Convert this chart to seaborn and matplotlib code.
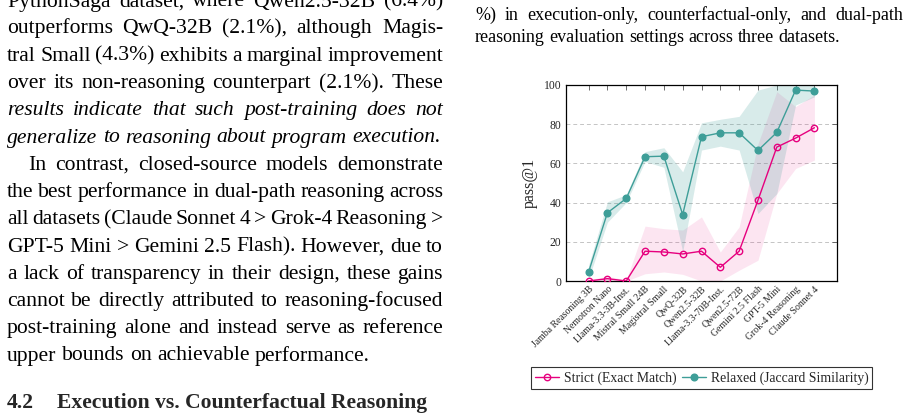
import matplotlib
matplotlib.use("Agg")
import matplotlib.pyplot as plt
import seaborn as sns
import numpy as np
import pandas as pd
from matplotlib.lines import Line2D

# ---------------- data ----------------
models = ["Jamba Reasoning 3B", "Nemotron Nano", "Llama-3.3-3B-Inst.", "Mistral Small 24B",
          "Magistral Small", "QwQ-32B", "Qwen2.5-32B", "Llama-3.3-70B-Inst.", "Qwen2.5-72B",
          "Gemini 2.5 Flash", "GPT-5 Mini", "Grok-4 Reasoning", "Claude Sonnet 4"]
strict = [0.0, 1.2, 0.0, 15.2, 14.8, 13.8, 15.2, 7.0, 15.2, 41.2, 68.3, 72.9, 78.2]
strict_lo = [0.0, 0.0, 0.0, 3.7, 4.6, 3.4, 0.0, 0.0, 5.5, 10.6, 44.6, 57.4, 61.7]
strict_hi = [0.5, 2.5, 0.5, 28.0, 26.7, 26.0, 32.7, 14.8, 27.6, 70.0, 96.6, 89.0, 95.0]
relaxed = [4.6, 34.8, 42.1, 63.4, 63.7, 33.9, 73.6, 75.6, 75.6, 66.6, 75.8, 97.4, 96.9]
relaxed_lo = [1.0, 30.0, 40.0, 61.0, 58.0, 15.0, 66.8, 68.8, 66.8, 34.4, 44.6, 89.8, 94.0]
relaxed_hi = [8.0, 40.4, 44.0, 66.0, 68.0, 55.7, 80.7, 82.5, 84.0, 97.4, 100.0, 100.0, 100.0]
yticks = [0, 20, 40, 60, 80, 100]
legend_labels = ["Strict (Exact Match)", "Relaxed (Jaccard Similarity)"]

left_lines = [
    ("PythonSaga dataset, where Qwen2.5-32B (6.4%)", [], True, 0),
    ("outperforms QwQ-32B (2.1%), although Magis-", [], True, 0),
    ("tral Small (4.3%) exhibits a marginal improvement", [], True, 0),
    ("over its non-reasoning counterpart (2.1%). These", [6], True, 0),
    ("results indicate that such post-training does not", "all", True, 0),
    ("generalize to reasoning about program execution.", "all", False, 0),
    ("In contrast, closed-source models demonstrate", [], True, 21),
    ("the best performance in dual-path reasoning across", [], True, 0),
    ("all datasets (Claude Sonnet 4 > Grok-4 Reasoning >", [], True, 0),
    ("GPT-5 Mini > Gemini 2.5 Flash). However, due to", [], True, 0),
    ("a lack of transparency in their design, these gains", [], True, 0),
    ("cannot be directly attributed to reasoning-focused", [], True, 0),
    ("post-training alone and instead serve as reference", [], True, 0),
    ("upper bounds on achievable performance.", [], False, 0),
]
left_baselines = [6.5, 33.5, 60.8, 88, 115.2, 142.5, 170, 197, 224.2, 251.5, 278.7, 306, 333.2, 360.5]
heading = ["4.2", "Execution vs. Counterfactual Reasoning"]
caption_lines = ["%) in execution-only, counterfactual-only, and dual-path",
                 "reasoning evaluation settings across three datasets."]
caption_baselines = [19.5, 42.0]

# ---------------- figure ----------------
W, H = 920, 413
sns.set_theme(style="white")
plt.rcParams["font.family"] = ["Liberation Serif", "DejaVu Serif"]
fig = plt.figure(figsize=(W / 100, H / 100), dpi=100)
renderer = fig.canvas.get_renderer()
SERIF = ["Liberation Serif", "DejaVu Serif"]


def put_line(words, y_base, x0, x1, justify, size, weight="normal"):
    texts, widths = [], []
    for w, st in words:
        t = fig.text(0, 0, w, fontsize=size, family=SERIF, style=st, weight=weight,
                     va="baseline", ha="left", color="black")
        texts.append(t)
        widths.append(t.get_window_extent(renderer).width)
    space = 0.25 * size * 100 / 72
    if justify and len(words) > 1:
        gap = (x1 - x0 - sum(widths)) / (len(words) - 1)
    else:
        gap = space
    x = x0
    for t, w in zip(texts, widths):
        t.set_position((x / W, 1 - y_base / H))
        x += w + gap


TXT = 15.6
for (line, ital, just, indent), yb in zip(left_lines, left_baselines):
    ws = line.split(" ")
    words = []
    for i, w in enumerate(ws):
        st = "italic" if (ital == "all" or (isinstance(ital, list) and i in ital)) else "normal"
        words.append((w, st))
    put_line(words, yb, 7 + indent, 443, just, TXT)

fig.text(7 / W, 1 - 408 / H, heading[0], fontsize=15.6, family=SERIF, weight="bold", va="baseline")
fig.text(57 / W, 1 - 408 / H, heading[1], fontsize=15.6, family=SERIF, weight="bold", va="baseline")

CAP = 13.0
put_line([(w, "normal") for w in caption_lines[0].split(" ")], caption_baselines[0], 475, 903, True, CAP)
put_line([(w, "normal") for w in caption_lines[1].split(" ")], caption_baselines[1], 475, 903, False, CAP)

# ---------------- chart ----------------
pink = "#E6007E"
teal = "#3E9E98"
ax = fig.add_axes([566 / W, 1 - 281 / H, (837 - 566) / W, (281 - 85) / H])
idx = np.arange(len(models))

ax.fill_between(idx, strict_lo, strict_hi, color=pink, alpha=0.10, linewidth=0)
ax.fill_between(idx, relaxed_lo, relaxed_hi, color=teal, alpha=0.20, linewidth=0)

df_s = pd.DataFrame({"x": idx, "y": strict})
df_r = pd.DataFrame({"x": idx, "y": relaxed})
sns.lineplot(data=df_s, x="x", y="y", ax=ax, color=pink, linewidth=1.0, marker="o",
             markersize=4.6, markerfacecolor="none", markeredgecolor=pink, markeredgewidth=1.0,
             zorder=4)
sns.lineplot(data=df_r, x="x", y="y", ax=ax, color=teal, linewidth=1.0, marker="o",
             markersize=4.8, markerfacecolor=teal, markeredgecolor=teal, markeredgewidth=1.0,
             zorder=4)

ax.set_xlim(-1.2, 13.2)
ax.set_ylim(0, 100)
ax.set_yticks(yticks)
ax.set_yticklabels([str(v) for v in yticks], fontsize=8.4, family=SERIF)
ax.set_xticks(idx)
ax.set_xticklabels(models, rotation=45, ha="right", rotation_mode="anchor", fontsize=7.0, family=SERIF)
ax.tick_params(direction="in", top=True, right=True, length=3.5, width=0.6, color="#555555",
               pad=3.5)
ax.tick_params(axis="x", pad=2.5)
ax.set_xlabel("")
ax.set_ylabel("pass@1", fontsize=11.5, family=SERIF, labelpad=4)
for y in yticks[1:-1]:
    ax.axhline(y, color="#C4C4C4", linestyle=(0, (4, 3)), linewidth=0.7, zorder=0)
for s in ax.spines.values():
    s.set_color("black")
    s.set_linewidth(0.9)

handles = [Line2D([], [], color=pink, linewidth=1.0, marker="o", markersize=4.6,
                  markerfacecolor="none", markeredgecolor=pink),
           Line2D([], [], color=teal, linewidth=1.0, marker="o", markersize=4.8,
                  markerfacecolor=teal, markeredgecolor=teal)]
leg = fig.legend(handles, legend_labels, ncol=2, loc="center",
                 bbox_to_anchor=(701.5 / W, 1 - 378 / H),
                 frameon=True, fancybox=False, handlelength=1.8, handletextpad=0.3,
                 columnspacing=0.4, borderpad=0.3, prop={"family": SERIF, "size": 9.9})
leg.get_frame().set_edgecolor("black")
leg.get_frame().set_linewidth(0.8)

fig.savefig("out.png", dpi=100)
